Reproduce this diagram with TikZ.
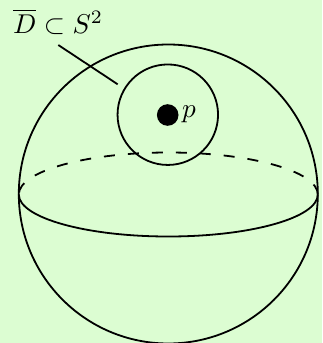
\documentclass[tikz,border=0pt]{standalone}
\usepackage{xcolor}
\definecolor{bgc}{HTML}{DCFDD2}
\begin{document}
\begin{tikzpicture}[x=1pt,y=-1pt,
  line/.style={line width=1.8pt, black},
  lab/.style={inner sep=0pt, scale=2.72}]
\fill[bgc] (0,0) rectangle (322,343);
\useasboundingbox (0,0) rectangle (322,343);
% sphere
\draw[line] (168.3,194) circle[radius=149.5pt];
% equator: front solid, back dashed
\draw[line] (18.8,194.5) arc[start angle=180, end angle=360, x radius=149.5pt, y radius=42pt];
\draw[line, dash pattern=on 11pt off 13pt] (317.8,194.5) arc[start angle=0, end angle=180, x radius=149.5pt, y radius=42pt];
% disk
\node[line, draw, circle, minimum size=100.5pt, inner sep=0pt] (disk) at (167.8,114.7) {};
\node[circle, fill=black, minimum size=21.6pt, inner sep=0pt] (pt) at (167.7,115) {};
\node[lab, anchor=base west] (plab) at (181.5,117) {$p$};
% label
\node[lab, anchor=base west] (lbl) at (12.5,33) {$\overline{D}\subset S^2$};
\coordinate (la) at (58.3,45);
\coordinate (lb) at (117.7,84.3);
\draw[line] (la) -- (lb);
\end{tikzpicture}
\end{document}
